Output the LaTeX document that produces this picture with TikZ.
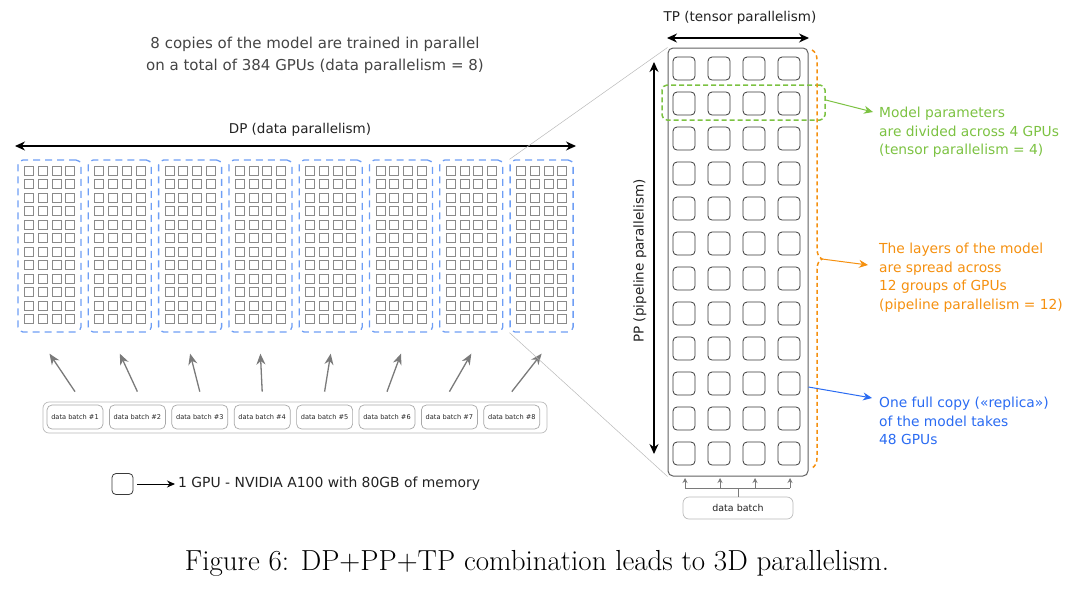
\documentclass[tikz,border=0pt]{standalone}
\usepackage{fontspec}
\setsansfont{DejaVu Sans}
\usetikzlibrary{arrows.meta,decorations.pathreplacing,calc}
\definecolor{txt}{HTML}{444444}
\definecolor{dark}{HTML}{222222}
\definecolor{replblue}{HTML}{6E9EF5}
\definecolor{sqgray}{HTML}{8A8A8A}
\definecolor{gpuline}{HTML}{3A3A3A}
\definecolor{grn}{HTML}{7CC242}
\definecolor{org}{HTML}{F5900F}
\definecolor{blu}{HTML}{2A6BF2}
\definecolor{arrgray}{HTML}{7A7A7A}
\definecolor{boxgray}{HTML}{A8A8A8}
\newcommand\sfsz[2]{\sffamily\fontsize{#1}{#2}\selectfont}
\tikzset{
  repl/.style={draw=replblue, dashed, dash pattern=on 7pt off 5pt, line width=1.3pt, rounded corners=5pt, minimum width=63pt, minimum height=172pt, inner sep=0pt},
  sq/.style={draw=sqgray, line width=0.7pt},
  gpu/.style={draw=gpuline, line width=0.8pt, rounded corners=4pt},
  dbox/.style={draw=boxgray, line width=0.7pt, rounded corners=5pt, minimum width=56pt, minimum height=24pt, inner sep=0pt, font=\sfsz{6.6}{8}, text=dark},
  garrow/.style={draw=arrgray, line width=1.3pt, -{Stealth[length=11pt,width=9pt]}},
  blackarrow/.style={draw=black, line width=1.2pt, {Stealth[length=10pt,width=9pt]}-{Stealth[length=10pt,width=9pt]}},
  annot/.style={anchor=west, align=left, font=\sfsz{13.8}{18.5}, inner sep=0pt},
  annarrow/.style={line width=1pt, -{Stealth[length=9pt,width=8pt]}},
}
\begin{document}
\begin{tikzpicture}[x=1pt,y=-1pt,font=\sffamily]
\useasboundingbox (0,0) rectangle (1067,590);

% top text
\node[align=center, text=txt, font=\sfsz{15}{22}] (title) at (315,55) {8 copies of the model are trained in parallel\\on a total of 384 GPUs (data parallelism = 8)};

% DP arrow
\coordinate (dpL) at (15,146);
\coordinate (dpR) at (576,146);
\draw[blackarrow] (dpL) -- (dpR);
\node[text=dark, font=\sfsz{13.5}{16}] (dplabel) at (300,130) {DP (data parallelism)};

% replicas
\foreach \i in {0,...,7} {
  \pgfmathsetmacro\bx{18+70.3*\i}
  \node[repl] (r\i) at (\bx+31.5,246) {};
  \foreach \c in {0,...,3} {
    \foreach \r in {0,...,11} {
      \draw[sq] (\bx+6.5+13.7*\c,166+13.5*\r) rectangle ++(9,9);
    }
  }
}

% data batches
\node[draw=boxgray!80, line width=0.7pt, rounded corners=6pt, minimum width=504pt, minimum height=31pt, inner sep=0pt] (dball) at (295,417.5) {};
\foreach \i in {0,...,7} {
  \pgfmathtruncatemacro\n{\i+1}
  \node[dbox] (d\i) at (75+62.4*\i,417) {data batch \#\n};
  \draw[garrow] ($(d\i.north)+(0,-13)$) -- ($(r\i.south)+(0,21)$);
}

% legend
\node[draw=gpuline, line width=0.8pt, rounded corners=4pt, minimum size=21pt, inner sep=0pt] (leg) at (122.5,484) {};
\node[anchor=west, text=dark, font=\sfsz{13.9}{16}, inner sep=0pt] (legtext) at (178,484) {1 GPU - NVIDIA A100 with 80GB of memory};
\draw[line width=1pt, -{Stealth[length=8pt,width=7pt]}] ($(leg.east)+(4,0)$) -- ($(legtext.west)+(-3,0)$);

% right main box
\node[draw=gpuline!80, line width=1pt, rounded corners=5pt, minimum width=140pt, minimum height=428pt, inner sep=0pt] (main) at (738,262) {};
\foreach \c in {0,...,3} {
  \foreach \r in {0,...,11} {
    \draw[gpu] (673+35*\c,57+35*\r) rectangle ++(22,23);
  }
}

% connector lines from last replica
\draw[draw=gray!55, line width=0.5pt] (r7.north west) -- (main.north west);
\draw[draw=gray!55, line width=0.5pt] (r7.south west) -- (main.south west);

% TP arrow
\coordinate (tpL) at (667,38);
\coordinate (tpR) at (809,38);
\draw[blackarrow] (tpL) -- (tpR);
\node[text=dark, font=\sfsz{13.5}{16}] (tplabel) at (740,18) {TP (tensor parallelism)};

% PP arrow
\coordinate (ppT) at (654,62);
\coordinate (ppB) at (654,454);
\draw[blackarrow] (ppT) -- (ppB);
\node[rotate=90, text=dark, font=\sfsz{13.5}{16}] (pplabel) at (640,261) {PP (pipeline parallelism)};

% green dashed group
\node[draw=grn, dashed, dash pattern=on 5pt off 3pt, line width=1.5pt, rounded corners=5pt, minimum width=163pt, minimum height=35pt, inner sep=0pt] (tpgroup) at (743.5,102.5) {};

% orange brace
\draw[draw=org, line width=1.5pt, dash pattern=on 4pt off 3pt, decorate, decoration={brace, amplitude=10pt}] (812,50) -- (812,468);
\coordinate (bracetip) at (822,259);

% annotations
\node[annot, text=grn] (tptext) at (879,132.5) {Model parameters\\are divided across 4 GPUs\\(tensor parallelism = 4)};
\draw[annarrow, draw=grn] (tpgroup.east |- 0,100) -- (873,112);

\node[annot, text=org] (pptext) at (879,277.5) {The layers of the model\\are spread across\\12 groups of GPUs\\(pipeline parallelism = 12)};
\draw[annarrow, draw=org] (bracetip) -- (868,265);

\node[annot, text=blu] (reptext) at (879,421) {One full copy («replica»)\\of the model takes\\48 GPUs};
\draw[annarrow, draw=blu] (main.east |- 0,387) -- (872,398);

% bottom data batch
\node[draw=boxgray!80, line width=0.7pt, rounded corners=6pt, minimum width=110pt, minimum height=22pt, inner sep=0pt, text=dark, font=\sfsz{9.5}{12}] (db) at (738,508) {data batch};
\draw[draw=arrgray, line width=0.8pt] (db.north) -- (738,488);
\draw[draw=arrgray, line width=0.8pt] (685,488) -- (790,488);
\foreach \x in {685,720,755,790} {
  \draw[draw=arrgray, line width=0.8pt, -{Stealth[length=5pt,width=5pt]}] (\x,488) -- (\x,478);
}

% caption
\node[font=\rmfamily\fontsize{29}{33}\selectfont] (caption) at (537,563) {Figure 6: DP+PP+TP combination leads to 3D parallelism.};
\end{tikzpicture}
\end{document}
